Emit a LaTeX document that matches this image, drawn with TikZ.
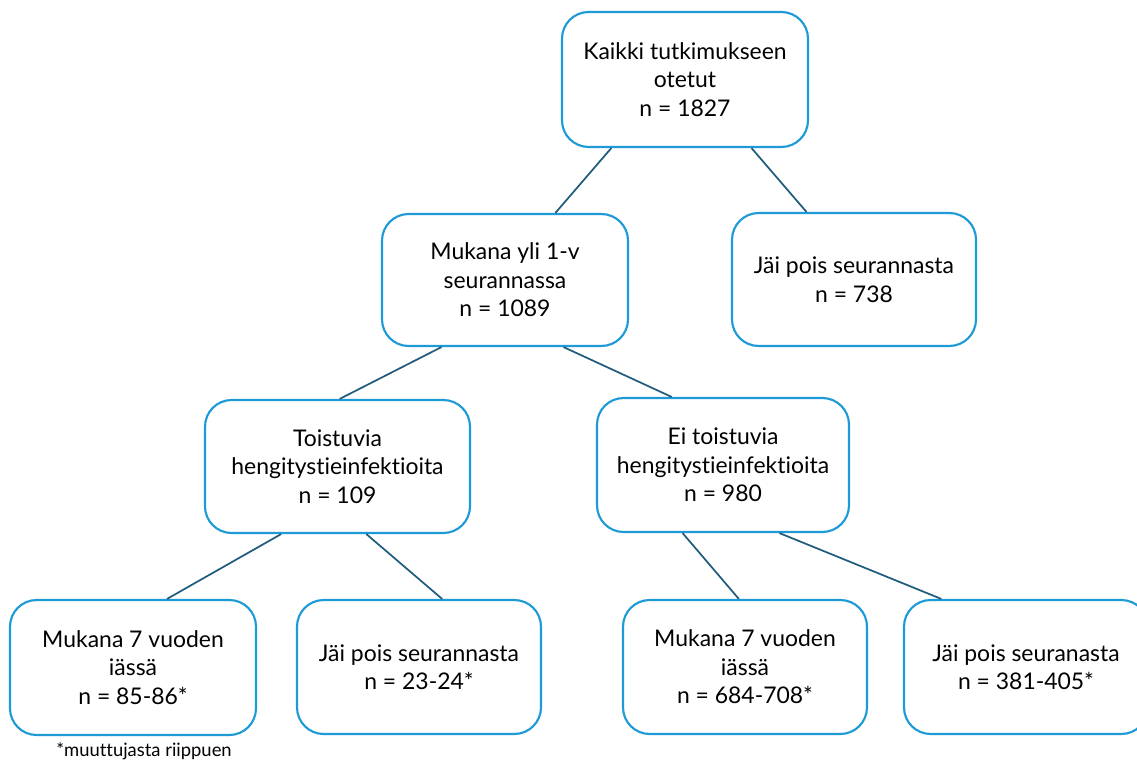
\documentclass[tikz,border=0pt]{standalone}
\usepackage{fontspec}
\setmainfont{Lato}[Ligatures=NoCommon]
\usetikzlibrary{calc}
\definecolor{boxblue}{HTML}{1E9BD7}
\definecolor{linkblue}{HTML}{1F5C7E}
\tikzset{
  box/.style={draw=boxblue, line width=1.6pt, rounded corners=20pt, fill=white,
    inner sep=0pt, align=center, font=\fontsize{17.2}{21.4}\selectfont},
  link/.style={draw=linkblue, line width=1.3pt},
}
\begin{document}
\begin{tikzpicture}[x=0.75pt,y=-0.75pt]
\useasboundingbox (0,0) rectangle (1137,760);
\clip (0,0) rectangle (1137,760);
\node[box, minimum width=246*0.75pt, minimum height=135*0.75pt] (b1) at (685,79.5) {Kaikki tutkimukseen\\otetut\\n = 1827};
\node[box, minimum width=246*0.75pt, minimum height=132*0.75pt] (b2) at (505,280) {Mukana yli 1-v\\seurannassa\\n = 1089};
\node[box, minimum width=244*0.75pt, minimum height=133*0.75pt] (b3) at (854,279.5) {Jäi pois seurannasta\\n = 738};
\node[box, minimum width=265*0.75pt, minimum height=133*0.75pt] (b4) at (337.5,466.5) {Toistuvia\\hengitystieinfektioita\\n = 109};
\node[box, minimum width=252*0.75pt, minimum height=134*0.75pt] (b5) at (723,465) {Ei toistuvia\\hengitystieinfektioita\\n = 980};
\node[box, minimum width=246*0.75pt, minimum height=135*0.75pt] (b6) at (133,667.5) {Mukana 7 vuoden\\iässä\\n = 85-86*};
\node[box, minimum width=244*0.75pt, minimum height=134*0.75pt] (b7) at (419,667) {Jäi pois seurannasta\\n = 23-24*};
\node[box, minimum width=244*0.75pt, minimum height=134*0.75pt] (b8) at (745,667) {Mukana 7 vuoden\\iässä\\n = 684-708*};
\node[box, minimum width=244*0.75pt, minimum height=134*0.75pt] (b9) at (1026,667) {Jäi pois seuranasta\\n = 381-405*};
\node[font=\fontsize{13.8}{16}\selectfont, inner sep=0pt] (note) at (144,751) {*muuttujasta riippuen};
\draw[link] ($(b1.south west)!0.203!(b1.south east)$) -- ($(b2.north west)!0.703!(b2.north east)$);
\draw[link] ($(b1.south west)!0.768!(b1.south east)$) -- ($(b3.north west)!0.307!(b3.north east)$);
\draw[link] ($(b2.south west)!0.244!(b2.south east)$) -- ($(b4.north west)!0.508!(b4.north east)$);
\draw[link] ($(b2.south west)!0.736!(b2.south east)$) -- ($(b5.north west)!0.298!(b5.north east)$);
\draw[link] ($(b4.south west)!0.289!(b4.south east)$) -- ($(b6.north west)!0.637!(b6.north east)$);
\draw[link] ($(b4.south west)!0.608!(b4.south east)$) -- ($(b7.north west)!0.594!(b7.north east)$);
\draw[link] ($(b5.south west)!0.341!(b5.south east)$) -- ($(b8.north west)!0.475!(b8.north east)$);
\draw[link] ($(b5.south west)!0.722!(b5.south east)$) -- ($(b9.north west)!0.156!(b9.north east)$);
\end{tikzpicture}
\end{document}
